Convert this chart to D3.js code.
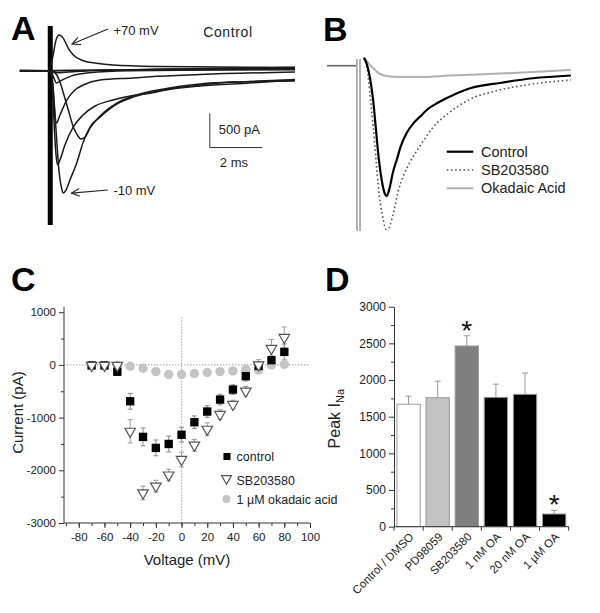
<!DOCTYPE html>
<html><head><meta charset="utf-8">
<script src="https://cdn.jsdelivr.net/npm/d3@7"></script>
<style>body{margin:0;background:#fff}svg{display:block}text{font-family:Arial,"Liberation Sans",sans-serif}</style>
</head><body>
<svg id="c" width="600" height="613"></svg>
<script>
// ---------- Panel A : current traces, time (ms) vs current (pA)
const traceAplus70 = [[-1.15,0],[-0.08,0],[0.08,157],[0.23,451],[0.35,525],[0.51,476],[0.70,329],[0.89,231],[1.27,147],[1.78,109],[2.40,84],[4.20,62],[6.49,54],[9.35,47]];
const traceAflat1 = [[-1.15,-5],[0,0],[3,10],[9.35,15]];
const traceAflat2 = [[-1.15,5],[0,0],[0.3,-30],[1,-10],[4,20],[9.35,35]];
const traceAflat3 = [[-1.15,0],[0,0],[3,15],[9.35,50]];
const traceAsmall = [[-1.15,0],[0,0],[0.1,-60],[0.25,-180],[0.4,-150],[0.8,-80],[1.5,-30],[3,0],[9.35,20]];
const traceA4 = [[-1.15,0],[0,0],[0.08,-88],[0.13,-357],[0.19,-651],[0.25,-769],[0.38,-651],[0.64,-431],[0.95,-284],[1.27,-210],[1.91,-137],[3.17,-107],[3.82,-88],[5.73,-56],[9.35,-19]];
const traceA2 = [[-1.15,0],[0,0],[0.08,-137],[0.15,-725],[0.23,-1239],[0.29,-1386],[0.38,-1313],[0.57,-1092],[0.89,-827],[1.26,-651],[1.72,-519],[2.40,-431],[3.17,-365],[3.82,-332],[4.43,-284],[5.73,-225],[7.63,-181],[9.35,-137]];
const traceA1 = [[-1.15,0],[0,0],[0.11,-210],[0.23,-873],[0.34,-1461],[0.44,-1725],[0.51,-1799],[0.61,-1755],[0.76,-1608],[1.02,-1358],[1.27,-1049],[1.53,-829],[1.91,-682],[2.55,-491],[3.17,-388],[4.45,-276],[5.73,-210],[6.99,-166],[9.35,-151]];
const traceAslow = [[-1.15,0],[0,0],[0.11,-15],[0.26,-63],[0.38,-166],[0.51,-328],[0.70,-578],[0.89,-827],[1.07,-960],[1.18,-1005],[1.34,-975],[1.53,-842],[1.91,-666],[2.55,-476],[3.17,-373],[4.45,-262],[5.73,-196],[7.63,-159],[9.35,-129]];
const artifactA = [[0.01,657],[0.01,-2270]];
const scaleBarA = {ms:[6.1,8.1], pA:[-1130,-630]};

// ---------- Panel B : traces
const traceBbase = [[-1.45,0],[-0.34,0]];
const traceBcontrol = [[-0.04,113],[0.04,54],[0.11,-34],[0.19,-181],[0.31,-504],[0.42,-945],[0.53,-1386],[0.65,-1710],[0.76,-1886],[0.83,-1915],[0.92,-1827],[1.07,-1563],[1.21,-1386],[1.37,-1180],[1.59,-989],[1.83,-856],[2.10,-749],[2.40,-637],[2.74,-553],[3.37,-431],[4.01,-332],[5.15,-254],[6.41,-185],[7.86,-144]];
const traceBsb = [[-0.04,113],[0.04,54],[0.11,-120],[0.19,-420],[0.31,-880],[0.42,-1380],[0.53,-1860],[0.65,-2170],[0.76,-2370],[0.86,-2445],[0.95,-2357],[1.11,-2122],[1.26,-1857],[1.46,-1622],[1.72,-1416],[2.10,-1180],[2.61,-901],[3.25,-680],[3.88,-519],[5.15,-357],[6.41,-269],[7.86,-210]];
const traceBoa = [[-0.04,128],[0.04,84],[0.19,10],[0.38,-63],[0.57,-122],[0.95,-159],[1.34,-166],[2.10,-166],[3.24,-144],[5.15,-115],[6.41,-93],[7.86,-63]];
const artifactB = [[-0.31,98],[-0.31,-2500],[-0.19,-2500],[-0.19,98]];
const legendB = ["Control","SB203580","Okadaic Acid"];

// ---------- Panel C : I-V
const voltages = [-70,-60,-50,-40,-30,-20,-10,0,10,20,30,40,50,60,70,80];
const controlI = [-10,-10,-130,-690,-1366,-1575,-1500,-1325,-1088,-885,-658,-468,-215,-20,90,247];
const controlErr = [20,20,40,150,170,150,150,140,120,110,100,90,90,60,80,150];
const sbI = [-10,-10,-10,-1260,-2430,-2300,-2090,-1795,-1523,-1222,-941,-751,-499,0,311,520];
const sbErr = [30,30,40,220,130,110,110,140,110,120,90,80,90,100,170,200];
const oaI = [-10,-10,-10,-25,-63,-127,-183,-183,-164,-145,-127,-114,-82,-100,0,13];
const legendC = ["control","SB203580","1 \u00b5M okadaic acid"];
const xTicksC = [-80,-60,-40,-20,0,20,40,60,80,100];
const yTicksC = [-3000,-2000,-1000,0,1000];

// ---------- Panel D : bars
const categoriesD = ["Control / DMSO","PD98059","SB203580","1 nM OA","20 nM OA","1 \u00b5M OA"];
const peakINa = [1670,1759,2464,1764,1805,173];
const peakErr = [110,225,140,180,290,50];
const significant = [false,false,true,false,false,true];
const barFills = ["#ffffff","#c2c2c2","#7f7f7f","#000000","#000000","#000000"];
const yTicksD = [0,500,1000,1500,2000,2500,3000];

const svg = d3.select("#c");
const ink = "#222";
const plain = d => String(d);

// panel letters
[["A",11,40],["B",323,41],["C",11,291],["D",325,291]].forEach(([t,x,y])=>{
  svg.append("text").attr("x",x).attr("y",y).attr("font-size",34).attr("font-weight","bold").attr("fill","#000").text(t);
});

// ================= Panel A
const xA = d3.scaleLinear().domain([-1.2,9.4]).range([50-1.2*26.2, 50+9.4*26.2]);
const yA = d3.scaleLinear().domain([-2300,800]).range([70.7+2300*0.068, 70.7-800*0.068]);
const lineA = d3.line().x(d=>xA(d[0])).y(d=>yA(d[1])).curve(d3.curveMonotoneX);
const lineAraw = d3.line().x(d=>xA(d[0])).y(d=>yA(d[1]));
const gA = svg.append("g");
gA.append("path").attr("d",lineAraw(artifactA)).attr("stroke","#000").attr("stroke-width",5).attr("fill","none");
[traceAflat1,traceAflat2,traceAflat3,traceAsmall,traceA4,traceA2,traceAslow,traceA1,traceAplus70].forEach(tr=>{
  gA.append("path").attr("d",lineA(tr)).attr("fill","none").attr("stroke","#1a1a1a").attr("stroke-width",1.5);
});
// scale bar
gA.append("path").attr("fill","none").attr("stroke","#333").attr("stroke-width",1)
  .attr("d",`M${xA(scaleBarA.ms[0])},${yA(scaleBarA.pA[1])}V${yA(scaleBarA.pA[0])}H${xA(scaleBarA.ms[1])}`);
gA.append("text").attr("x",xA(scaleBarA.ms[0])+9).attr("y",yA(-930)).attr("font-size",13).attr("fill",ink).text("500 pA");
gA.append("text").attr("x",xA(scaleBarA.ms[0])+10).attr("y",yA(-1410)).attr("font-size",13).attr("fill",ink).text("2 ms");
gA.append("text").attr("x",xA(5.85)).attr("y",yA(490)).attr("font-size",14).attr("letter-spacing",0.6).attr("fill",ink).text("Control");
// annotations with arrows
function arrow(g, x1,y1,x2,y2){
  g.append("line").attr("x1",x1).attr("y1",y1).attr("x2",x2).attr("y2",y2).attr("stroke","#222").attr("stroke-width",1.1);
  const a = Math.atan2(y1-y2,x1-x2), L=9;
  const p1=[x2+L*Math.cos(a+0.45),y2+L*Math.sin(a+0.45)], p2=[x2+L*Math.cos(a-0.45),y2+L*Math.sin(a-0.45)];
  g.append("path").attr("d",`M${p1}L${x2},${y2}L${p2}`).attr("fill","none").attr("stroke","#222").attr("stroke-width",1.1);
}
arrow(gA, xA(2.21),yA(613), xA(0.84),yA(392));
gA.append("text").attr("x",xA(2.42)).attr("y",yA(525)).attr("font-size",13).attr("fill",ink).text("+70 mV");
arrow(gA, xA(2.21),yA(-1754), xA(0.82),yA(-1800));
gA.append("text").attr("x",xA(2.42)).attr("y",yA(-1830)).attr("font-size",13).attr("fill",ink).text("-10 mV");

// ================= Panel B
const xB = d3.scaleLinear().domain([-1.5,8]).range([365-1.5*26.2, 365+8*26.2]);
const yB = d3.scaleLinear().domain([-2500,150]).range([65.7+2500*0.068, 65.7-150*0.068]);
const lineB = d3.line().x(d=>xB(d[0])).y(d=>yB(d[1])).curve(d3.curveMonotoneX);
svg.append("clipPath").attr("id","clipB").append("rect").attr("x",320).attr("y",40).attr("width",280).attr("height",191);
const gB = svg.append("g").attr("clip-path","url(#clipB)");
gB.append("path").attr("d",lineB(traceBbase)).attr("fill","none").attr("stroke","#666").attr("stroke-width",1.6);
gB.append("path").attr("d",d3.line().x(d=>xB(d[0])).y(d=>yB(d[1]))(artifactB)).attr("fill","none").attr("stroke","#a0a0a0").attr("stroke-width",1.6);
gB.append("path").attr("d",lineB(traceBoa)).attr("fill","none").attr("stroke","#b0b0b0").attr("stroke-width",2);
gB.append("path").attr("d",lineB(traceBsb)).attr("fill","none").attr("stroke","#555").attr("stroke-width",1.6).attr("stroke-dasharray","1.6,2.6");
gB.append("path").attr("d",lineB(traceBcontrol)).attr("fill","none").attr("stroke","#000").attr("stroke-width",2.2);
const legBstyles = [{s:"#000",w:2.2,d:null},{s:"#555",w:1.6,d:"1.6,2.6"},{s:"#b0b0b0",w:2,d:null}];
legendB.forEach((t,i)=>{
  const y = 151.7 + i*18.3;
  svg.append("line").attr("x1",446.7).attr("x2",473.3).attr("y1",y).attr("y2",y).attr("stroke",legBstyles[i].s).attr("stroke-width",legBstyles[i].w).attr("stroke-dasharray",legBstyles[i].d);
  svg.append("text").attr("x",481).attr("y",y+5).attr("font-size",14.5).attr("fill",ink).text(t);
});

// ================= Panel C
const xC = d3.scaleLinear().domain([-91.5,100]).range([64,310]);
const yC = d3.scaleLinear().domain([-3000,1100]).range([523,523-4100*0.0527]);
const gC = svg.append("g");
gC.append("line").attr("x1",xC(-91.5)).attr("x2",xC(100)).attr("y1",yC(0)).attr("y2",yC(0)).attr("stroke","#999").attr("stroke-dasharray","1.5,1.5");
gC.append("line").attr("x1",xC(0)).attr("x2",xC(0)).attr("y1",yC(900)).attr("y2",yC(-3000)).attr("stroke","#aaa").attr("stroke-dasharray","1.5,1.5");
const axC = "#333";
const styleText = g=>g.selectAll("text").attr("font-size",11.5).attr("fill",ink).attr("font-family","Arial,'Liberation Sans',sans-serif");
gC.append("g").attr("transform",`translate(0,${yC(-3000)})`).call(d3.axisBottom(xC).tickValues(d3.range(-90,101,10)).tickSize(3).tickFormat(""))
  .call(g=>{g.select(".domain").remove();g.selectAll("line").attr("stroke",axC);});
gC.append("g").attr("transform",`translate(0,${yC(-3000)})`).call(d3.axisBottom(xC).tickValues(xTicksC).tickSize(5).tickSizeOuter(0).tickPadding(5).tickFormat(plain))
  .call(g=>{g.select(".domain").attr("stroke",axC).attr("d",`M${xC(-91.5)},0H${xC(100)}`);g.selectAll("line").attr("stroke",axC);styleText(g);});
gC.append("g").attr("transform",`translate(${xC(-91.5)},0)`).call(d3.axisLeft(yC).tickValues([-2500,-1500,-500,500]).tickSize(3).tickFormat(""))
  .call(g=>{g.select(".domain").remove();g.selectAll("line").attr("stroke",axC);});
gC.append("g").attr("transform",`translate(${xC(-91.5)},0)`).call(d3.axisLeft(yC).tickValues(yTicksC).tickSize(5).tickSizeOuter(0).tickPadding(3).tickFormat(plain))
  .call(g=>{g.select(".domain").attr("stroke",axC).attr("d",`M0,${yC(1100)}V${yC(-3000)}`);g.selectAll("line").attr("stroke",axC);styleText(g);});
gC.append("text").attr("transform",`translate(23,${yC(-1000)-5}) rotate(-90)`).attr("text-anchor","middle").attr("font-size",15).attr("fill",ink).text("Current (pA)");
gC.append("text").attr("x",187).attr("y",565).attr("text-anchor","middle").attr("font-size",15).attr("fill",ink).text("Voltage (mV)");
function errBars(vals, errs, color){
  voltages.forEach((v,i)=>{
    const x = xC(v), y1 = yC(vals[i]+errs[i]), y2 = yC(vals[i]-errs[i]);
    gC.append("path").attr("d",`M${x},${y1}V${y2}M${x-2.5},${y1}H${x+2.5}M${x-2.5},${y2}H${x+2.5}`).attr("stroke",color).attr("stroke-width",1).attr("fill","none");
  });
}
errBars(controlI, controlErr, "#888");
errBars(sbI, sbErr, "#999");
gC.selectAll(".oa").data(voltages).join("circle").attr("cx",d=>xC(d)).attr("cy",(d,i)=>yC(oaI[i])).attr("r",4.7).attr("fill","#c4c4c4");
gC.selectAll(".ctl").data(voltages).join("path").attr("d",d3.symbol(d3.symbolSquare,70)).attr("transform",(d,i)=>`translate(${xC(d)},${yC(controlI[i])})`).attr("fill","#000");
gC.selectAll(".sb").data(voltages).join("path").attr("d",d3.symbol(d3.symbolTriangle,48)).attr("transform",(d,i)=>`translate(${xC(d)},${yC(sbI[i])}) rotate(180)`).attr("fill","#fff").attr("stroke","#555").attr("stroke-width",1.2);
const legC = gC.append("g");
legC.append("path").attr("d",d3.symbol(d3.symbolSquare,50)).attr("transform","translate(227,456.5)").attr("fill","#000");
legC.append("path").attr("d",d3.symbol(d3.symbolTriangle,42)).attr("transform","translate(226.5,478.5) rotate(180)").attr("fill","#fff").attr("stroke","#555").attr("stroke-width",1.2);
legC.append("circle").attr("cx",226.5).attr("cy",499).attr("r",4).attr("fill","#c4c4c4");
legendC.forEach((t,i)=>{
  legC.append("text").attr("x",236.5).attr("y",[460.5,485,504][i]).attr("font-size",12.5).attr("fill",ink).text(t);
});

// ================= Panel D
const xD = d3.scaleBand().domain(categoriesD).range([394,568.7]).paddingInner(0.2).paddingOuter(0.1);
const yD = d3.scaleLinear().domain([0,3000]).range([526.7,306.7]);
const gD = svg.append("g");
const step = xD.step();
gD.append("g").attr("transform",`translate(394,0)`).call(d3.axisLeft(yD).tickValues(d3.range(250,3000,500)).tickSize(3).tickFormat(""))
  .call(g=>{g.select(".domain").remove();g.selectAll("line").attr("stroke",axC);});
gD.append("g").attr("transform",`translate(394,0)`).call(d3.axisLeft(yD).tickValues(yTicksD).tickSize(5).tickSizeOuter(0).tickPadding(3).tickFormat(plain))
  .call(g=>{g.select(".domain").attr("stroke",axC);g.selectAll("line").attr("stroke",axC);g.selectAll("text").attr("font-size",12).attr("fill",ink).attr("font-family","Arial,'Liberation Sans',sans-serif");});
gD.selectAll(".bar").data(categoriesD).join("rect").attr("x",d=>xD(d)).attr("width",xD.bandwidth())
  .attr("y",(d,i)=>yD(peakINa[i])).attr("height",(d,i)=>yD(0)-yD(peakINa[i]))
  .attr("fill",(d,i)=>barFills[i]).attr("stroke","#999").attr("stroke-width",1);
categoriesD.forEach((c,i)=>{
  const x = xD(c)+xD.bandwidth()/2, yt = yD(peakINa[i]+peakErr[i]);
  gD.append("path").attr("d",`M${x},${yD(peakINa[i])}V${yt}M${x-3},${yt}H${x+3}`).attr("stroke","#999").attr("stroke-width",1).attr("fill","none");
  if(significant[i]) gD.append("text").attr("x",x).attr("y",yt+4).attr("text-anchor","middle").attr("font-size",28).attr("fill","#111").text("*");
});
gD.append("path").attr("d",`M394,${yD(0)}H568.7`).attr("stroke",axC).attr("fill","none");
d3.range(0,7).forEach(k=>{
  const x = 394 + k*step;
  gD.append("line").attr("x1",x).attr("x2",x).attr("y1",yD(0)).attr("y2",yD(0)+4).attr("stroke",axC);
});
categoriesD.forEach(c=>{
  const x = xD(c)+xD.bandwidth()/2+3;
  gD.append("text").attr("transform",`translate(${x},${yD(0)+8}) rotate(-45)`).attr("text-anchor","end").attr("dy","0.35em").attr("font-size",11.5).attr("fill",ink).text(c);
});
const yl = gD.append("text").attr("transform",`translate(340,${yD(1500)+2}) rotate(-90)`).attr("text-anchor","middle").attr("font-size",16).attr("fill",ink);
yl.append("tspan").text("Peak I");
yl.append("tspan").attr("font-size",11).attr("dy",4).text("Na");
</script>
</body></html>
